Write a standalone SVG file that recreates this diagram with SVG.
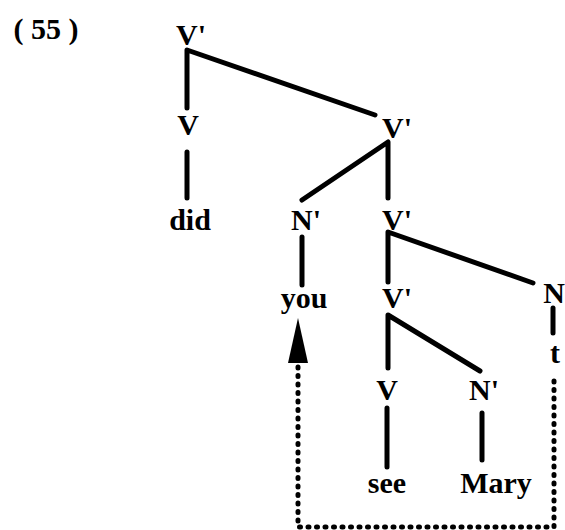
<svg xmlns="http://www.w3.org/2000/svg" width="565" height="530" viewBox="0 0 565 530">
<style>
text{font-family:"Liberation Serif","Times New Roman",serif;font-weight:bold;font-size:30px;fill:#000;text-anchor:middle}
.e{stroke:#000;stroke-width:5;fill:none;stroke-linecap:round;stroke-linejoin:round}
.d{stroke:#000;stroke-width:5;fill:none;stroke-linecap:round;stroke-dasharray:1 7.5}
</style>
<text x="46" y="39">( 55 )</text>
<g id="connectors">
<path class="e" d="M187 108 L187 50 L375 115"/>
<path class="e" d="M187 152 L187 198"/>
<path class="e" d="M302 200 L388 142 L388 198"/>
<path class="e" d="M302 237 L302 285"/>
<path class="e" d="M388 282 L388 232 L533 283"/>
<path class="e" d="M553 308 L553 333"/>
<path class="e" d="M388 368 L388 315 L480 371"/>
<path class="e" d="M387 408 L387 467"/>
<path class="e" d="M482 413 L482 460"/>
<path class="d" d="M554 381 L554 527 L298 527 L298 364"/>
<path d="M298 318 L308 363 L288 363 Z" fill="#000"/>
</g>
<g id="n1"><text x="191" y="45">V'</text></g>
<g id="n2"><text x="188" y="135">V</text></g>
<g id="n3"><text x="190" y="230">did</text></g>
<g id="n4"><text x="397" y="138">V'</text></g>
<g id="n5"><text x="306" y="230">N'</text></g>
<g id="n6"><text x="397" y="230">V'</text></g>
<g id="n7"><text x="304" y="308">you</text></g>
<g id="n8"><text x="397" y="308">V'</text></g>
<g id="n9"><text x="554" y="303">N</text></g>
<g id="n10"><text x="555" y="363">t</text></g>
<g id="n11"><text x="387" y="400">V</text></g>
<g id="n12"><text x="484" y="400">N'</text></g>
<g id="n13"><text x="387" y="493">see</text></g>
<g id="n14"><text x="496" y="493">Mary</text></g>
</svg>
